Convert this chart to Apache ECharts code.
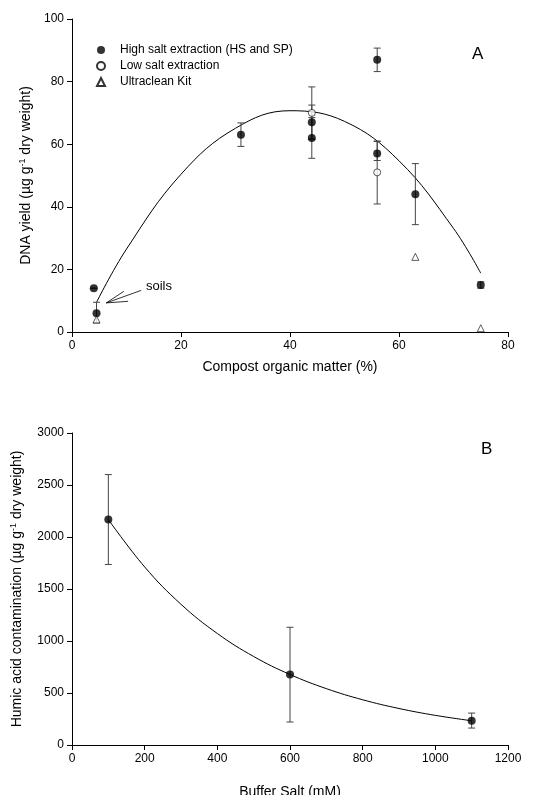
<!DOCTYPE html>
<html>
<head>
<meta charset="utf-8">
<script src="https://cdn.jsdelivr.net/npm/echarts@6/dist/echarts.min.js"></script>
<style>
  html, body { margin: 0; padding: 0; background: #fff; }
  #main { width: 536px; height: 795px; }
</style>
</head>
<body>
<div id="main"></div>
<script>
// panel A: [x, y, errLow, errHigh]
var highSalt = [
  [4, 14, 14, 14],
  [4.5, 6, 2.9, 9.5],
  [31, 63, 59.3, 66.8],
  [44, 67, 61.5, 72.5],
  [44, 62, 55.5, 68.5],
  [56, 87, 83.2, 90.7],
  [56, 57, 54.8, 60.9],
  [63, 44, 34.3, 53.8],
  [75, 15, 14, 16]
];
var lowSalt = [
  [44, 70, 61.7, 78.3],
  [56, 51, 40.9, 61]
];
var ultraclean = [
  [4.5, 4],
  [63, 24],
  [75, 1.2]
];
// fitted curve
var fitA = [[4.5, 9.5], [10, 26.5], [20, 50.4], [30, 65.1], [40, 70.7], [50, 67.3], [60, 54.7], [70, 33.1], [75, 18.8]];

// panel B: [x, y, errLow, errHigh]
var humic = [
  [100, 2168, 1736, 2600],
  [600, 678, 221, 1132],
  [1100, 233, 163, 307]
];
var fitB = [[100, 2168], [200, 1712], [300, 1353], [400, 1072], [500, 851], [600, 678], [700, 542], [800, 435], [900, 351], [1000, 285], [1100, 233]];

var font = 'Liberation Sans, Arial, sans-serif';

function errBar(params, api) {
  var x = api.value(0);
  var lo = api.coord([x, api.value(2)]);
  var hi = api.coord([x, api.value(3)]);
  var w = 3.5;
  var st = { stroke: '#444', lineWidth: 1 };
  return {
    type: 'group',
    children: [
      { type: 'line', shape: { x1: lo[0], y1: lo[1], x2: hi[0], y2: hi[1] }, style: st },
      { type: 'line', shape: { x1: lo[0] - w, y1: lo[1], x2: lo[0] + w, y2: lo[1] }, style: st },
      { type: 'line', shape: { x1: hi[0] - w, y1: hi[1], x2: hi[0] + w, y2: hi[1] }, style: st }
    ]
  };
}

function valAxis(idx, min, max, interval, name, nameGap) {
  return {
    type: 'value', gridIndex: idx, min: min, max: max, interval: interval,
    name: name, nameLocation: 'middle', nameGap: nameGap,
    nameTextStyle: { fontFamily: font, fontSize: 14, color: '#000',
      rich: { a: { fontFamily: font, fontSize: 14, color: '#000' },
              s: { fontFamily: font, fontSize: 9, color: '#000', verticalAlign: 'top', padding: [0, 0, 8, 0] } } },
    axisLine: { show: true, lineStyle: { color: '#000', width: 1 } },
    axisTick: { show: true, length: 5, inside: false, lineStyle: { color: '#000' } },
    axisLabel: { fontFamily: font, fontSize: 12, color: '#000', margin: 8,
      formatter: function (v) { return String(v); } },
    splitLine: { show: false }
  };
}

var chart = echarts.init(document.getElementById('main'));
var option = {
  backgroundColor: '#fff',
  animation: false,
  grid: [
    { left: 72, top: 19, width: 436, height: 313, outerBoundsMode: 'none', containLabel: false },
    { left: 72, top: 433, width: 436, height: 312, outerBoundsMode: 'none', containLabel: false }
  ],
  xAxis: [
    valAxis(0, 0, 80, 20, 'Compost organic matter (%)', 28),
    valAxis(1, 0, 1200, 200, 'Buffer Salt (mM)', 40)
  ],
  yAxis: [
    valAxis(0, 0, 100, 20, '{a|DNA yield (µg g}{s|-1}{a| dry weight)}', 35),
    valAxis(1, 0, 3000, 500, '{a|Humic acid contamination (µg g}{s|-1}{a| dry weight)}', 46)
  ],
  legend: {
    left: 91, top: 39, orient: 'vertical', itemGap: 4, itemWidth: 8, itemHeight: 8,
    textStyle: { fontFamily: font, fontSize: 12, color: '#000', padding: [0, 0, 0, 10] },
    data: ['High salt extraction (HS and SP)', 'Low salt extraction', 'Ultraclean Kit']
  },
  graphic: [
    { type: 'text', left: 472, top: 46, style: { text: 'A', fontFamily: font, fontSize: 17, fill: '#000' } },
    { type: 'text', left: 481, top: 441, style: { text: 'B', fontFamily: font, fontSize: 17, fill: '#000' } },
    { type: 'text', left: 146, top: 280, style: { text: 'soils', fontFamily: font, fontSize: 13, fill: '#000' } }
  ],
  series: [
    { type: 'line', xAxisIndex: 0, yAxisIndex: 0, data: fitA, smooth: 0.4, showSymbol: false,
      lineStyle: { color: '#000', width: 1 }, z: 1,
      markLine: { silent: true, symbol: 'none', label: { show: false },
        lineStyle: { color: '#000', width: 0.8, type: 'solid' },
        data: [
          [{ coord: [12.7, 13.3] }, { coord: [6.3, 9.3] }],
          [{ coord: [9.5, 13.0] }, { coord: [6.3, 9.3] }],
          [{ coord: [10.3, 9.8] }, { coord: [6.3, 9.3] }]
        ] } },
    { type: 'custom', xAxisIndex: 0, yAxisIndex: 0, data: highSalt.concat(lowSalt), renderItem: errBar, z: 2 },
    { name: 'High salt extraction (HS and SP)', type: 'scatter', xAxisIndex: 0, yAxisIndex: 0,
      data: highSalt.map(function (d) { return [d[0], d[1]]; }), symbol: 'circle', symbolSize: 8,
      itemStyle: { color: '#000' }, z: 3 },
    { name: 'Low salt extraction', type: 'scatter', xAxisIndex: 0, yAxisIndex: 0,
      data: lowSalt.map(function (d) { return [d[0], d[1]]; }), symbol: 'circle', symbolSize: 7,
      itemStyle: { color: '#fff', borderColor: '#000', borderWidth: 0.8 }, z: 3 },
    { name: 'Ultraclean Kit', type: 'scatter', xAxisIndex: 0, yAxisIndex: 0,
      data: ultraclean, symbol: 'triangle', symbolSize: 7,
      itemStyle: { color: '#fff', borderColor: '#000', borderWidth: 0.8 }, z: 3 },
    { type: 'line', xAxisIndex: 1, yAxisIndex: 1, data: fitB, smooth: 0.4, showSymbol: false,
      lineStyle: { color: '#000', width: 1 }, z: 1 },
    { type: 'custom', xAxisIndex: 1, yAxisIndex: 1, data: humic, renderItem: errBar, z: 2 },
    { type: 'scatter', xAxisIndex: 1, yAxisIndex: 1, data: humic.map(function (d) { return [d[0], d[1]]; }),
      symbol: 'circle', symbolSize: 8, itemStyle: { color: '#000' }, z: 3 }
  ]
};
chart.setOption(option);
</script>
</body>
</html>
